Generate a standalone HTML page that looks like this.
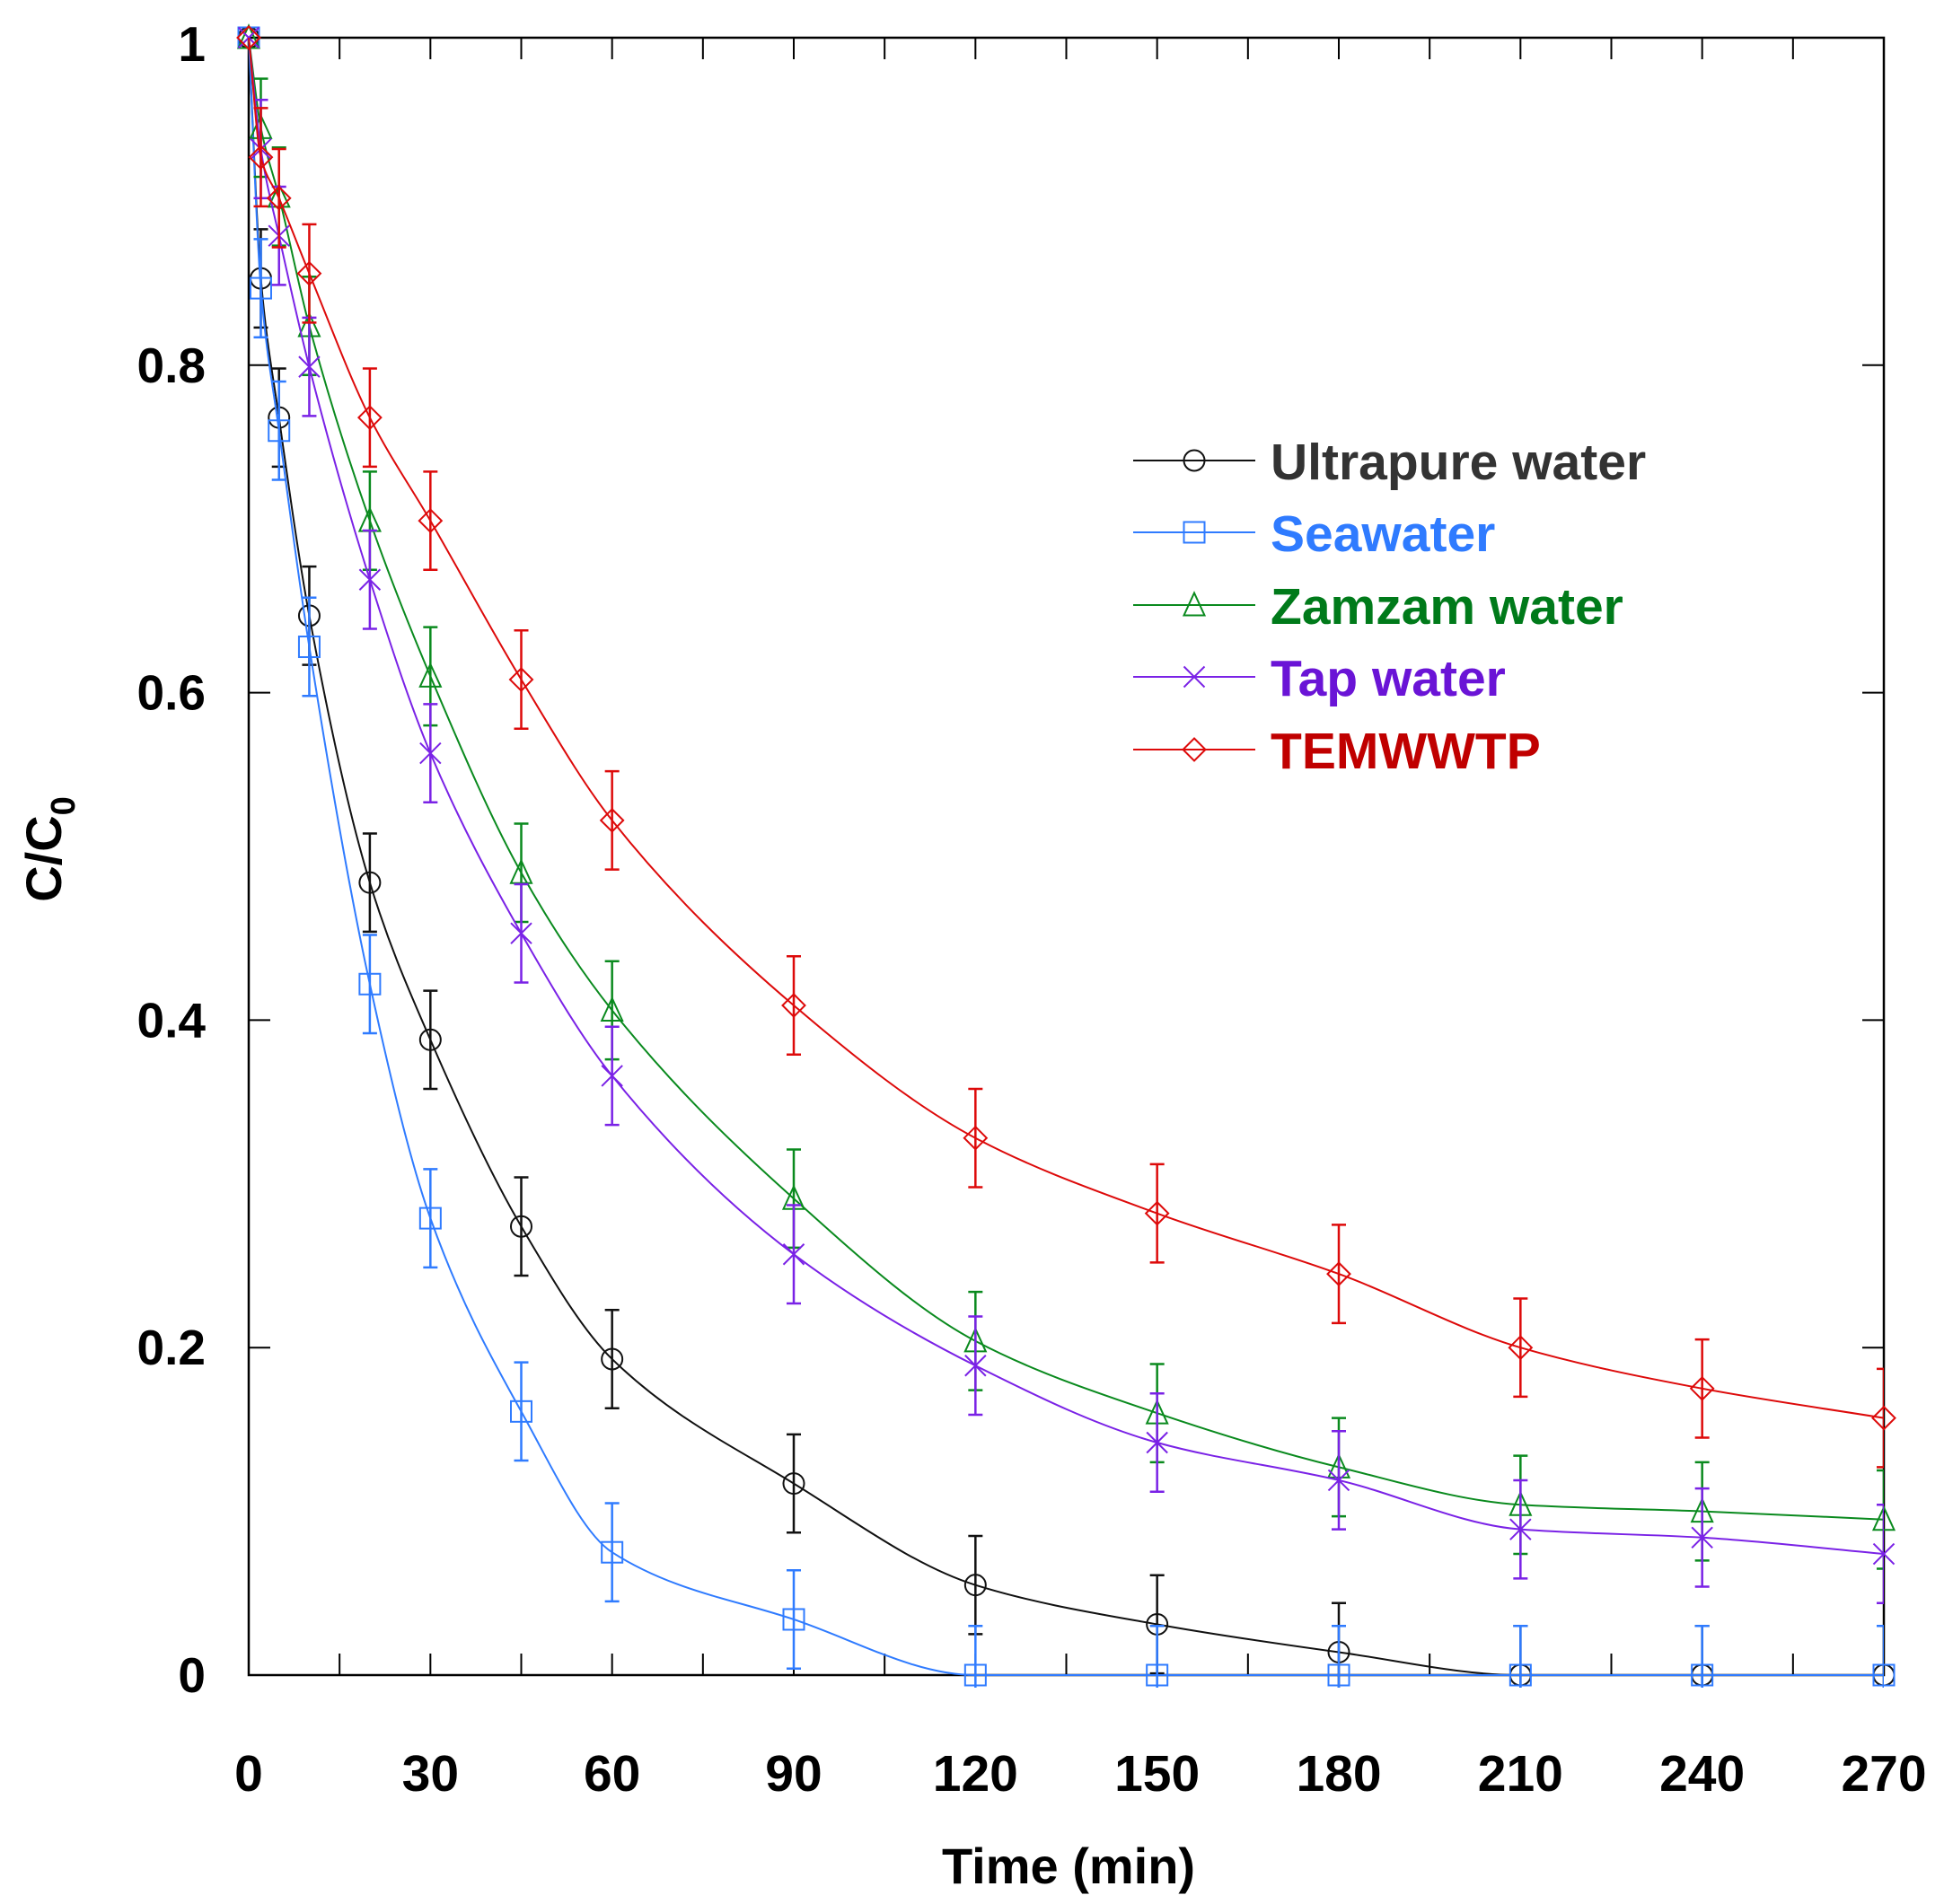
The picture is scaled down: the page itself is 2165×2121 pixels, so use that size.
<!DOCTYPE html>
<html><head><meta charset="utf-8"><style>
body{margin:0;background:#fff}
svg{display:block;font-family:"Liberation Sans",Arial,sans-serif;font-weight:bold}
</style></head><body>
<svg id="chart" width="2165" height="2121" viewBox="0 0 2165 2121" xmlns="http://www.w3.org/2000/svg">
<defs><clipPath id="pc"><rect x="277" y="30" width="1821" height="1850"/></clipPath></defs>
<g id="axes"></g>
<g id="series"></g>
<g id="legend"></g>
<text x="1190" y="2098" font-size="56" text-anchor="middle" fill="#000">Time (min)</text>
<text transform="translate(68,946) rotate(-90)" font-size="56" text-anchor="middle" fill="#000">C/C<tspan font-size="38" dy="15">0</tspan></text>
</svg>
<script>
const times = [0,2,5,10,20,30,45,60,90,120,150,180,210,240,270];
const ultrapure = [1,0.853,0.768,0.647,0.484,0.388,0.274,0.193,0.117,0.055,0.031,0.014,0,0,0];
const seawater = [1,0.847,0.76,0.628,0.422,0.279,0.161,0.075,0.034,0,0,0,0,0,0];
const zamzam = [1,0.945,0.903,0.824,0.705,0.61,0.49,0.406,0.291,0.204,0.16,0.127,0.104,0.1,0.095];
const tap = [1,0.932,0.879,0.799,0.669,0.563,0.453,0.366,0.257,0.189,0.142,0.119,0.089,0.084,0.074];
const temwwtp = [1,0.927,0.902,0.856,0.768,0.705,0.608,0.522,0.409,0.328,0.282,0.245,0.2,0.175,0.157];
const errorValue = 0.03;
const xTicks = [0,30,60,90,120,150,180,210,240,270];
const xMinor = [15,45,75,105,135,165,195,225,255];
const yTicks = [0,0.2,0.4,0.6,0.8,1];
const yTickLabels = ["0","0.2","0.4","0.6","0.8","1"];
const seriesNames = ["Ultrapure water","Seawater","Zamzam water","Tap water","TEMWWTP"];

const L=277,R=2098,T=42,B=1866;
const X=t=>L+(t/270)*(R-L);
const Y=v=>B-v*(B-T);
const NS="http://www.w3.org/2000/svg";
function mk(tag,attrs,parent){const e=document.createElementNS(NS,tag);for(const k in attrs)e.setAttribute(k,attrs[k]);parent.appendChild(e);return e;}
const axes=document.getElementById('axes');
let f=mk('rect',{x:L,y:T,width:R-L,height:B-T,fill:'none',stroke:'#000','stroke-width':2.5},axes);


xTicks.concat(xMinor).forEach(t=>{
  let a=mk('line',{x1:X(t),x2:X(t),y1:B,y2:B-24,stroke:'#000','stroke-width':2},axes);
  
  
  let b=mk('line',{x1:X(t),x2:X(t),y1:T,y2:T+24,stroke:'#000','stroke-width':2},axes);
  
  
});
xTicks.forEach(t=>{
  let tx=mk('text',{x:X(t),y:1995,'font-size':57,'text-anchor':'middle',fill:'#000'},axes);
  tx.textContent=t;
  
  
});
yTicks.forEach((v,i)=>{
  let a=mk('line',{x1:L,x2:L+24,y1:Y(v),y2:Y(v),stroke:'#000','stroke-width':2},axes);
  
  
  let b=mk('line',{x1:R,x2:R-24,y1:Y(v),y2:Y(v),stroke:'#000','stroke-width':2},axes);
  
  
  let tx=mk('text',{x:229,y:Y(v)+(v===1?26:19),'font-size':55,'text-anchor':'end',fill:'#000'},axes);
  tx.textContent=yTickLabels[i];
  
  
});

const lineColors=['#111111','#2f7bff','#0a8a1e','#7a22e6','#dd0a0a'];
const textColors=['#333333','#2f7bff','#007a1a','#6a14d6','#c00000'];
const shapes=['circle','square','triangle','cross','diamond'];
const data=[ultrapure,seawater,zamzam,tap,temwwtp];

function marker(g,shape,x,y,c){
  const s=11.5;let e;
  if(shape==='circle')e=mk('circle',{cx:x,cy:y,r:s,fill:'none',stroke:c,'stroke-width':2},g);
  else if(shape==='square')e=mk('rect',{x:x-s,y:y-s,width:2*s,height:2*s,fill:'none',stroke:c,'stroke-width':2},g);
  else if(shape==='triangle')e=mk('path',{d:`M${x},${y-s-2}L${x+s},${y+s}L${x-s},${y+s}Z`,fill:'none',stroke:c,'stroke-width':2},g);
  else if(shape==='cross')e=mk('path',{d:`M${x-s},${y-s}L${x+s},${y+s}M${x-s},${y+s}L${x+s},${y-s}`,fill:'none',stroke:c,'stroke-width':2},g);
  else e=mk('path',{d:`M${x},${y-s-1}L${x+s+1},${y}L${x},${y+s+1}L${x-s-1},${y}Z`,fill:'none',stroke:c,'stroke-width':2},g);
  return e;
}
function smooth(pts){
  const n=pts.length,dx=[],dy=[],m=[],t=[];
  for(let i=0;i<n-1;i++){dx[i]=pts[i+1][0]-pts[i][0];dy[i]=pts[i+1][1]-pts[i][1];m[i]=dy[i]/dx[i];}
  t[0]=m[0];t[n-1]=m[n-2];
  for(let i=1;i<n-1;i++){
    if(m[i-1]*m[i]<=0)t[i]=0;
    else{const w1=2*dx[i]+dx[i-1],w2=dx[i]+2*dx[i-1];t[i]=(w1+w2)/(w1/m[i-1]+w2/m[i]);}
  }
  let d=`M${pts[0][0]},${pts[0][1]}`;
  for(let i=0;i<n-1;i++){
    const h=dx[i]/3;
    d+=`C${pts[i][0]+h},${pts[i][1]+t[i]*h} ${pts[i+1][0]-h},${pts[i+1][1]-t[i+1]*h} ${pts[i+1][0]},${pts[i+1][1]}`;
  }
  return d;
}
const sg=document.getElementById('series');
data.forEach((vals,si)=>{
  const g=mk('g',{},sg);
  
  
  const c=lineColors[si];
  const pts=times.map((t,i)=>[X(t),Y(vals[i])]);
  const ln=mk('path',{d:smooth(pts),fill:'none',stroke:c,'stroke-width':2},g);
  
  
  const eg=mk('g',{'clip-path':'url(#pc)'},g);
  times.forEach((t,i)=>{
    if(i===0)return;
    const x=X(t),y1=Y(vals[i]+errorValue),y2=Y(vals[i]-errorValue);
    const eb=mk('path',{d:`M${x},${y1}V${y2}M${x-8},${y1}H${x+8}M${x-8},${y2}H${x+8}`,stroke:c,'stroke-width':2.5,fill:'none'},eg);
    
    
  });
  times.forEach((t,i)=>{
    const m=marker(g,shapes[si],X(t),Y(vals[i]),c);
    
    
  });
});

const lg=document.getElementById('legend');
const rowY=[513,593,674,754,835];
seriesNames.forEach((n,i)=>{
  const g=mk('g',{},lg);
  
  
  mk('line',{x1:1262,x2:1398,y1:rowY[i],y2:rowY[i],stroke:lineColors[i],'stroke-width':2},g);
  marker(g,shapes[i],1330,rowY[i],lineColors[i]);
  const tx=mk('text',{x:1415,y:rowY[i]+21,'font-size':57,fill:textColors[i]},g);
  tx.textContent=n;
});
</script>
</body></html>
